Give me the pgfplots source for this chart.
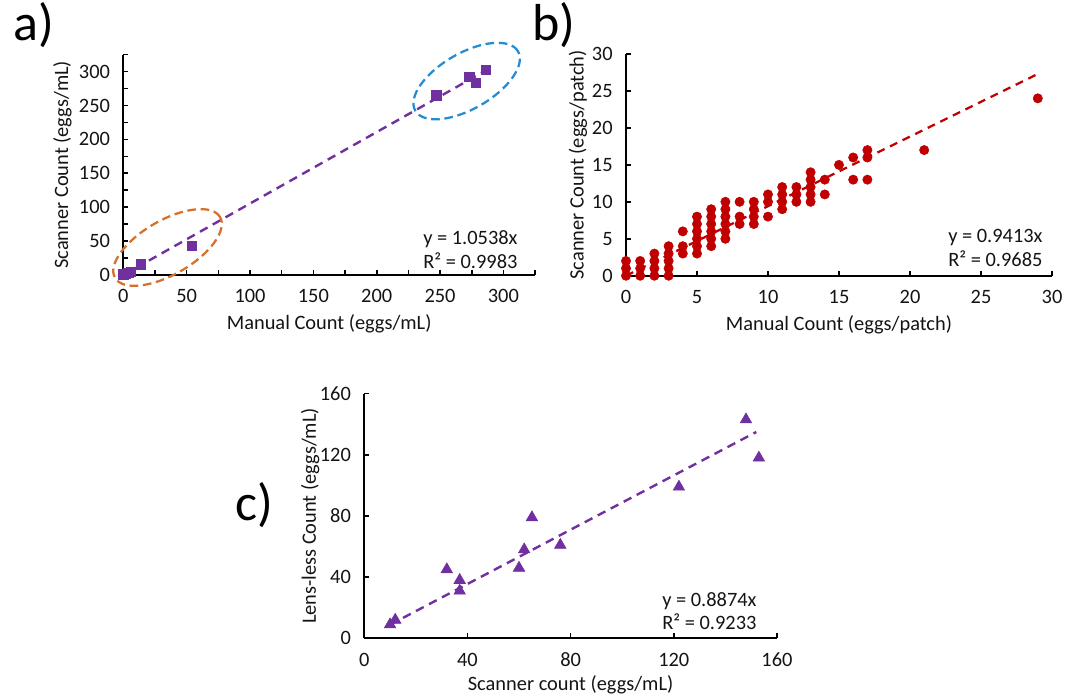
\documentclass[border=0pt]{standalone}
\usepackage{fontspec}
\setmainfont{Carlito}
\usepackage{pgfplots}
\pgfplotsset{compat=1.18}
\definecolor{ppl}{RGB}{112,48,160}
\definecolor{dred}{RGB}{192,0,0}
\definecolor{eorange}{RGB}{214,112,44}
\definecolor{eblue}{RGB}{38,140,210}
\definecolor{txt}{RGB}{20,20,20}
\newcommand\fs{\fontsize{15.3pt}{17.8pt}\selectfont}
\pgfplotsset{
  exc/.style={
    scale only axis,
    axis lines=left,
    axis line style={-, line width=1.6pt, black},
    tick align=inside,
    major tick length=3.75pt,
    minor tick length=3.75pt,
    tick style={black, line width=1.2pt},
    tick label style={font=\fs, text=txt},
    label style={font=\fs, text=txt},
    /pgf/number format/assume math mode=true,
    yticklabel style={xshift=-6.5pt},
    xticklabel style={yshift=-7.5pt},
    anchor=south west,
    clip=false,
    xlabel style={at={(axis description cs:0.5,0)}, anchor=center, yshift=-36.5pt},
  }
}
\begin{document}
\begin{tikzpicture}
\useasboundingbox (0,0) rectangle (798.75pt,-522pt);
% ---------------- a)
\begin{axis}[exc, at={(92.5pt,-206.25pt)}, width=308.8pt, height=165.3pt,
  xmin=0, xmax=325, ymin=0, ymax=325,
  xtick={0,50,...,300}, minor xtick={25,75,...,325},
  ytick={0,50,...,300}, minor ytick={25,75,...,325},
  xlabel={Manual Count (eggs/mL)}, ylabel={Scanner Count (eggs/mL)},
  ylabel style={at={(axis description cs:-0.148,0.5)}, anchor=center}]
\addplot[ppl, line width=1.8pt, dash pattern=on 6.5pt off 4.5pt] coordinates {(0,0) (286,301.4)};
\addplot[only marks, mark=square*, mark size=3.5pt, color=ppl] coordinates {
(0,1) (2,2) (4,3) (6,5) (14,16) (54,43) (247,265) (273,292) (278,283) (286,303)};
\draw[eorange, line width=1.7pt, dash pattern=on 6.5pt off 3.5pt] (axis cs:34.9,40.6) ellipse [x radius=45.5pt, y radius=20.3pt, rotate=30];
\draw[eblue, line width=1.7pt, dash pattern=on 6.5pt off 3.5pt] (axis cs:271,286) ellipse [x radius=44.5pt, y radius=20.9pt, rotate=30];
\end{axis}
% ---------------- b)
\begin{axis}[exc, at={(469.5pt,-206.8pt)}, width=319.5pt, height=166.3pt,
  xmin=0, xmax=30, ymin=0, ymax=30,
  xtick={0,5,...,30}, ytick={0,5,...,30},
  xlabel={Manual Count (eggs/patch)}, ylabel={Scanner Count (eggs/patch)},
  ylabel style={at={(axis description cs:-0.113,0.5)}, anchor=center}]
\addplot[dred, line width=1.7pt, dash pattern=on 6pt off 4.5pt] coordinates {(0,0) (29,27.3)};
\addplot[only marks, mark=*, mark size=3.5pt, color=dred] coordinates {
(0,0) (0,1) (0,2)
(1,0) (1,1) (1,2)
(2,0) (2,1) (2,2) (2,3)
(3,0) (3,1) (3,2) (3,3) (3,4)
(4,3) (4,4) (4,6)
(5,3) (5,4) (5,5) (5,6) (5,7) (5,8)
(6,4) (6,5) (6,6) (6,7) (6,8) (6,9)
(7,5) (7,6) (7,7) (7,8) (7,9) (7,10)
(8,7) (8,8) (8,10)
(9,7) (9,8) (9,9) (9,10)
(10,8) (10,10) (10,11)
(11,9) (11,10) (11,11) (11,12)
(12,10) (12,11) (12,12)
(13,10) (13,11) (13,12) (13,13) (13,14)
(14,11) (14,13)
(15,15)
(16,13) (16,16)
(17,13) (17,16) (17,17)
(21,17)
(29,24)};
\end{axis}
% ---------------- c)
\begin{axis}[exc, at={(273.2pt,-478.7pt)}, width=309.5pt, height=183.5pt,
  xmin=0, xmax=160, ymin=0, ymax=160,
  xtick={0,40,...,160}, ytick={0,40,...,160},
  xlabel={Scanner count (eggs/mL)}, ylabel={Lens-less Count (eggs/mL)},
  xlabel style={yshift=1.5pt},
  ylabel style={at={(axis description cs:-0.131,0.5)}, anchor=center}]
\addplot[ppl, line width=1.8pt, dash pattern=on 6.5pt off 4.5pt] coordinates {(10,8.874) (152,134.9)};
\addplot[only marks, mark=triangle*, mark size=5pt, color=ppl] coordinates {
(10,9) (12,12) (32,45) (37,38) (37,31) (60,46) (62,58) (65,79) (76,61) (122,99) (148,143) (153,118)};
\end{axis}
% equations
\node[anchor=west, align=left, font=\fs, text=txt, inner sep=0pt] at (317.25pt,-187.4pt) {y = 1.0538x\\R² = 0.9983};
\node[anchor=west, align=left, font=\fs, text=txt, inner sep=0pt] at (711pt,-186.2pt) {y = 0.9413x\\R² = 0.9685};
\node[anchor=west, align=left, font=\fs, text=txt, inner sep=0pt] at (496.5pt,-458.25pt) {y = 0.8874x\\R² = 0.9233};
% panel labels
\node[font=\fontsize{39pt}{42pt}\selectfont, text=black] at (25.5pt,-19pt) {a)};
\node[font=\fontsize{39pt}{42pt}\selectfont, text=black] at (415.5pt,-19pt) {b)};
\node[font=\fontsize{39pt}{42pt}\selectfont, text=black] at (190.5pt,-378.75pt) {c)};
\end{tikzpicture}
\end{document}
